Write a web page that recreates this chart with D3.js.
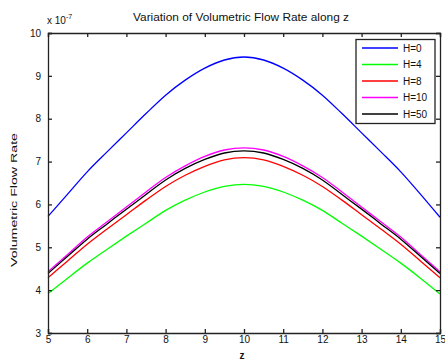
<!DOCTYPE html>
<html>
<head>
<meta charset="utf-8">
<script src="https://cdn.jsdelivr.net/npm/d3@7"></script>
<style>
  body { margin: 0; background: #fff; }
  svg { display: block; font-family: "Liberation Sans", Arial, sans-serif; }
</style>
</head>
<body>
<svg id="chart" width="445" height="361"></svg>
<script>
const zValues = [5, 5.5, 6, 6.5, 7, 7.5, 8, 8.5, 9, 9.5, 10, 10.5, 11, 11.5, 12, 12.5, 13, 13.5, 14, 14.5, 15];
const seriesNames = ["H=0", "H=4", "H=8", "H=10", "H=50"];
const seriesColors = ["#0000ff", "#00ff00", "#ff0000", "#ff00ff", "#000000"];
const h0 = [5.72, 6.24, 6.76, 7.22, 7.67, 8.12, 8.55, 8.90, 9.18, 9.37, 9.44, 9.37, 9.18, 8.90, 8.55, 8.12, 7.67, 7.22, 6.76, 6.24, 5.70];
const h4 = [3.92, 4.28, 4.63, 4.95, 5.26, 5.56, 5.86, 6.10, 6.29, 6.42, 6.47, 6.42, 6.29, 6.10, 5.86, 5.56, 5.26, 4.95, 4.63, 4.28, 3.91];
const h8 = [4.29, 4.68, 5.07, 5.42, 5.76, 6.10, 6.42, 6.68, 6.89, 7.04, 7.09, 7.04, 6.89, 6.68, 6.42, 6.10, 5.76, 5.42, 5.07, 4.68, 4.29];
const h10 = [4.43, 4.83, 5.24, 5.59, 5.94, 6.29, 6.63, 6.90, 7.12, 7.27, 7.32, 7.27, 7.12, 6.90, 6.63, 6.29, 5.94, 5.59, 5.24, 4.83, 4.43];
const h50 = [4.39, 4.79, 5.19, 5.54, 5.89, 6.23, 6.57, 6.84, 7.05, 7.20, 7.25, 7.20, 7.05, 6.84, 6.57, 6.23, 5.89, 5.54, 5.19, 4.79, 4.39];
const xTicks = [5, 6, 7, 8, 9, 10, 11, 12, 13, 14, 15];
const yTicks = [3, 4, 5, 6, 7, 8, 9, 10];
const titleText = "Variation of Volumetric Flow Rate along z";
const xLabelText = "z";
const yLabelText = "Volumetric Flow Rate";

const seriesValues = [h0, h4, h8, h10, h50];
const svg = d3.select("#chart");
const L = 48, R = 440, T = 33, B = 333;
const x = d3.scaleLinear().domain([5, 15]).range([L, R]);
const y = d3.scaleLinear().domain([3, 10]).range([B, T]);

const tickColor = "#222";
// lines
const line = d3.line().x((d, i) => x(zValues[i])).y(d => y(d)).curve(d3.curveMonotoneX);
seriesValues.forEach((vals, k) => {
  svg.append("path").datum(vals)
    .attr("d", line)
    .attr("fill", "none")
    .attr("stroke", seriesColors[k])
    .attr("stroke-width", 1.3);
});

// axes (MATLAB style box with inward ticks)
const fs = "10px";
const gB = svg.append("g").attr("transform", `translate(0,${B})`)
  .call(d3.axisBottom(x).tickValues(xTicks).tickSize(-4).tickPadding(4).tickFormat(d3.format("d")));
const gT = svg.append("g").attr("transform", `translate(0,${T})`)
  .call(d3.axisTop(x).tickValues(xTicks).tickSize(-4).tickFormat(""));
const gL = svg.append("g").attr("transform", `translate(${L},0)`)
  .call(d3.axisLeft(y).tickValues(yTicks).tickSize(-4).tickPadding(7).tickFormat(d3.format("d")));
const gR = svg.append("g").attr("transform", `translate(${R},0)`)
  .call(d3.axisRight(y).tickValues(yTicks).tickSize(-4).tickFormat(""));
[gB, gT, gL, gR].forEach(g => {
  g.select(".domain").attr("stroke", tickColor).attr("stroke-width", 1.3);
  g.selectAll(".tick line").attr("stroke", tickColor).attr("stroke-width", 1.3);
  g.selectAll("text").attr("fill", "#111").style("font-size", fs).style("font-family", "'Liberation Sans', Arial, sans-serif");
});
gB.selectAll(".tick text").attr("dy", "0.6em");

// exponent
const ex = svg.append("text").attr("x", 47).attr("y", 24).attr("font-size", 10).attr("fill", "#111");
ex.append("tspan").text("x 10");
ex.append("tspan").attr("dy", -5).attr("font-size", 7).text("-7");

// title
svg.append("text").attr("x", 241).attr("y", 21).attr("text-anchor", "middle")
  .attr("font-size", 10).attr("fill", "#111")
  .attr("textLength", 216).attr("lengthAdjust", "spacingAndGlyphs")
  .text(titleText);

// x label
svg.append("text").attr("x", 242).attr("y", 359).attr("text-anchor", "middle")
  .attr("font-size", 10).attr("font-weight", "bold").attr("fill", "#111").text(xLabelText);

// y label
svg.append("text").attr("transform", "translate(17,200) rotate(-90)")
  .attr("text-anchor", "middle").attr("font-size", 9).attr("fill", "#111")
  .attr("textLength", 134).attr("lengthAdjust", "spacingAndGlyphs")
  .text(yLabelText);

// legend
const lg = svg.append("g");
lg.append("rect").attr("x", 356).attr("y", 39.5).attr("width", 79).attr("height", 84)
  .attr("fill", "#fff").attr("stroke", tickColor).attr("stroke-width", 1.3);
seriesNames.forEach((name, k) => {
  const yy = 48 + k * 16.5;
  lg.append("line").attr("x1", 362).attr("x2", 398).attr("y1", yy).attr("y2", yy)
    .attr("stroke", seriesColors[k]).attr("stroke-width", 1.3);
  lg.append("text").attr("x", 403).attr("y", yy).attr("dy", "0.35em")
    .attr("font-size", 10).attr("fill", "#111").text(name);
});
</script>
</body>
</html>
